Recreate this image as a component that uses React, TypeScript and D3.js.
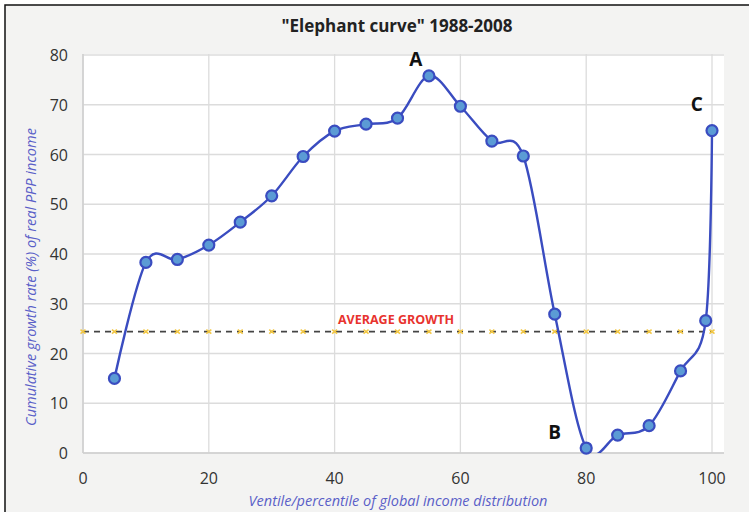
import React from "react";
import * as d3 from "d3";

const percentiles = [5, 10, 15, 20, 25, 30, 35, 40, 45, 50, 55, 60, 65, 70, 75, 80, 85, 90, 95, 99, 100];
const growth = [15, 38.3, 38.9, 41.8, 46.4, 51.7, 59.6, 64.7, 66.1, 67.3, 75.8, 69.7, 62.7, 59.7, 27.9, 1.0, 3.6, 5.5, 16.5, 26.6, 64.8];
const averageGrowth = 24.4;
const avgMarkers = [0, 5, 10, 15, 20, 25, 30, 35, 40, 45, 50, 55, 60, 65, 70, 75, 80, 85, 90, 95, 100];
const xTicks = [0, 20, 40, 60, 80, 100];
const yTicks = [0, 10, 20, 30, 40, 50, 60, 70, 80];
const annotations = [
  { label: "A", x: 52.9, y: 77.8 },
  { label: "B", x: 75, y: 2.8 },
  { label: "C", x: 97.6, y: 68.8 },
];

const W = 749;
const H = 512;
const plot = { left: 83, right: 724, top: 54, bottom: 453 };
const font = "'Open Sans', 'Liberation Sans', sans-serif";

export default function App() {
  const x = d3.scaleLinear().domain([0, 100]).range([83, 712]);
  const y = d3.scaleLinear().domain([0, 80]).range([453, 55]);
  const pts: [number, number][] = percentiles.map((p, i) => [p, growth[i]]);
  const line = d3
    .line<[number, number]>()
    .x((d) => x(d[0]))
    .y((d) => y(d[1]))
    .curve(d3.curveCatmullRom.alpha(0));
  const blue = "#3a4cc0";
  const labelBlue = "#5a5fc8";
  return (
    <svg
      width={W}
      height={H}
      style={{ position: "fixed", left: 0, top: 0, background: "#ffffff" }}
      fontFamily={font}
    >
      <defs>
        <clipPath id="plotClip">
          <rect x={plot.left} y={plot.top} width={plot.right - plot.left} height={plot.bottom - plot.top} />
        </clipPath>
      </defs>
      <rect x={5} y={5} width={W} height={H} fill="#f3f3f2" />
      <path d={`M5,${H} V5 H${W}`} fill="none" stroke="#111" strokeWidth={1.5} />
      <text x={397} y={32} textAnchor="middle" fontSize={17} fontWeight={700} fill="#222">
        "Elephant curve" 1988-2008
      </text>
      <rect x={plot.left} y={plot.top} width={plot.right - plot.left} height={plot.bottom - plot.top} fill="#ffffff" />
      {yTicks.map((t) => (
        <line key={"gy" + t} x1={plot.left} x2={plot.right} y1={y(t)} y2={y(t)} stroke="#dcdcdc" strokeWidth={1.3} />
      ))}
      {xTicks.map((t) => (
        <line key={"gx" + t} x1={x(t)} x2={x(t)} y1={plot.top} y2={plot.bottom} stroke="#dcdcdc" strokeWidth={1.3} />
      ))}
      <line x1={plot.left} x2={plot.right} y1={plot.bottom} y2={plot.bottom} stroke="#cfcfcf" strokeWidth={1.5} />
      <line x1={plot.left} x2={plot.left} y1={plot.top} y2={plot.bottom} stroke="#cfcfcf" strokeWidth={1.5} />
      {yTicks.map((t) => (
        <text key={"ty" + t} x={68} y={y(t) + 6} textAnchor="end" fontSize={16} fill="#333">
          {t}
        </text>
      ))}
      {xTicks.map((t) => (
        <text key={"tx" + t} x={x(t)} y={484} textAnchor="middle" fontSize={16} fill="#333">
          {t}
        </text>
      ))}
      <line
        x1={x(0)}
        x2={x(100)}
        y1={y(averageGrowth)}
        y2={y(averageGrowth)}
        stroke="#444"
        strokeWidth={1.8}
        strokeDasharray="6,5"
      />
      {avgMarkers.map((m) => (
        <g key={"am" + m} stroke="#f2c744" strokeWidth={1.6}>
          <line x1={x(m) - 2.5} x2={x(m) + 2.5} y1={y(averageGrowth) - 2} y2={y(averageGrowth) + 2} />
          <line x1={x(m) - 2.5} x2={x(m) + 2.5} y1={y(averageGrowth) + 2} y2={y(averageGrowth) - 2} />
        </g>
      ))}
      <text x={396} y={y(averageGrowth) - 8} textAnchor="middle" fontSize={12.5} fontWeight={700} fill="#e8332e">
        AVERAGE GROWTH
      </text>
      <path d={line(pts) || ""} fill="none" stroke={blue} strokeWidth={2.4} clipPath="url(#plotClip)" />
      {pts.map((p, i) => (
        <circle key={"pt" + i} cx={x(p[0])} cy={y(p[1])} r={5.5} fill="#5b9bd5" stroke={blue} strokeWidth={2.2} />
      ))}
      {annotations.map((a) => (
        <text key={a.label} x={x(a.x)} y={y(a.y)} textAnchor="middle" fontSize={19} fontWeight={700} fill="#111">
          {a.label}
        </text>
      ))}
      <text x={398} y={506} textAnchor="middle" fontSize={14.5} fontStyle="italic" fill={labelBlue}>
        Ventile/percentile of global income distribution
      </text>
      <text
        transform={`translate(36,${277}) rotate(-90)`}
        textAnchor="middle"
        fontSize={14.5}
        fontStyle="italic"
        fill={labelBlue}
      >
        Cumulative growth rate (%) of real PPP income
      </text>
    </svg>
  );
}
